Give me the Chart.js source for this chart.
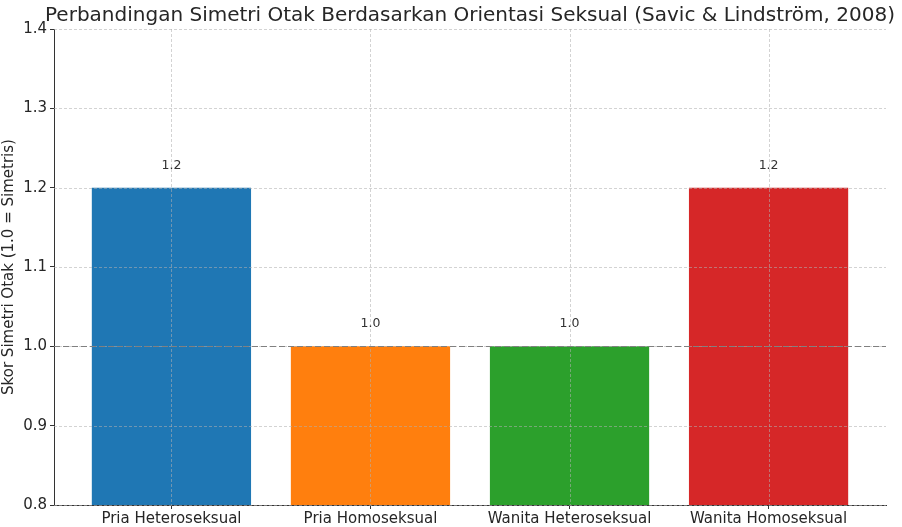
<!DOCTYPE html>
<html>
<head>
<meta charset="utf-8">
<script src="https://cdn.jsdelivr.net/npm/chart.js@4.4.1/dist/chart.umd.min.js"></script>
<style>
html,body{margin:0;padding:0;background:#fff;}
#wrap{width:902px;height:527px;position:relative;}
</style>
</head>
<body>
<div id="wrap"><canvas id="c" width="902" height="527"></canvas></div>
<script>
const categories = ["Pria Heteroseksual", "Pria Homoseksual", "Wanita Heteroseksual", "Wanita Homoseksual"];
const symmetryScores = [1.2, 1.0, 1.0, 1.2];
const barColors = ["#1f77b4", "#ff7f0e", "#2ca02c", "#d62728"];
const yTicks = [0.8, 0.9, 1.0, 1.1, 1.2, 1.3, 1.4];
const referenceValue = 1.0;
const chartTitle = "Perbandingan Simetri Otak Berdasarkan Orientasi Seksual (Savic & Lindström, 2008)";
const yAxisLabel = "Skor Simetri Otak (1.0 = Simetris)";

const FONT = "'DejaVu Sans', sans-serif";

const overlayPlugin = {
  id: 'overlay',
  afterDatasetsDraw(chart) {
    const ctx = chart.ctx;
    const area = chart.chartArea;
    const xs = chart.scales.x, ys = chart.scales.y;
    ctx.save();
    // grid over bars
    ctx.strokeStyle = 'rgba(176,176,176,0.7)';
    ctx.lineWidth = 0.8;
    ctx.setLineDash([3, 2]);
    yTicks.forEach(v => {
      const y = Math.round(ys.getPixelForValue(v)) + 0.5;
      ctx.beginPath(); ctx.moveTo(area.left, y); ctx.lineTo(area.right, y); ctx.stroke();
    });
    categories.forEach((c, i) => {
      const x = Math.round(xs.getPixelForValue(i)) + 0.5;
      ctx.beginPath(); ctx.moveTo(x, area.top); ctx.lineTo(x, area.bottom); ctx.stroke();
    });
    // reference line
    ctx.strokeStyle = '#808080';
    ctx.lineWidth = 1.2;
    ctx.setLineDash([6, 3]);
    const ry = Math.round(ys.getPixelForValue(referenceValue)) + 0.5;
    ctx.beginPath(); ctx.moveTo(area.left, ry); ctx.lineTo(area.right, ry); ctx.stroke();
    ctx.setLineDash([]);
    // value labels
    ctx.fillStyle = '#333';
    ctx.font = "12.5px " + FONT;
    ctx.textAlign = 'center';
    ctx.textBaseline = 'bottom';
    symmetryScores.forEach((v, i) => {
      ctx.fillText(v.toFixed(1), xs.getPixelForValue(i), ys.getPixelForValue(v + 0.02));
    });
    // title centred over the plot area
    ctx.fillStyle = '#262626';
    ctx.font = "20px " + FONT;
    ctx.textBaseline = 'alphabetic';
    ctx.fillText(chartTitle, (area.left + area.right) / 2, 21);
    ctx.restore();
  }
};

new Chart(document.getElementById('c'), {
  type: 'bar',
  data: {
    datasets: [{
      data: symmetryScores.map((v, i) => ({ x: i, y: v })),
      backgroundColor: barColors,
      borderWidth: 0,
      barPercentage: 0.8,
      categoryPercentage: 1.0
    }]
  },
  options: {
    responsive: false,
    animation: false,
    devicePixelRatio: 1,
    layout: { padding: { left: 0, right: 16, top: 29, bottom: 0 } },
    plugins: {
      legend: { display: false },
      tooltip: { enabled: false },
      title: { display: false }
    },
    scales: {
      x: {
        type: 'linear',
        offset: false,
        min: -0.59,
        max: 3.59,
        afterBuildTicks: s => { s.ticks = categories.map((c, i) => ({ value: i })); },
        afterFit: s => { s.height = 22; },
        ticks: {
          callback: v => categories[v],
          color: '#262626',
          font: { family: FONT, size: 15 },
          padding: 1,
          maxRotation: 0,
          autoSkip: false
        },
        grid: { offset: false, drawOnChartArea: false, drawTicks: true, tickLength: 4, tickColor: '#333', lineWidth: 1 },
        border: { display: true, color: '#333', width: 1 }
      },
      y: {
        min: 0.8,
        max: 1.4,
        afterBuildTicks: s => { s.ticks = yTicks.map(v => ({ value: v })); },
        afterFit: s => { s.width = 54; },
        ticks: {
          callback: v => v.toFixed(1),
          color: '#262626',
          font: { family: FONT, size: 15 },
          padding: 3
        },
        title: {
          display: true,
          text: yAxisLabel,
          color: '#262626',
          font: { family: FONT, size: 15 },
          padding: { top: 0, bottom: 2 }
        },
        grid: { drawOnChartArea: false, drawTicks: true, tickLength: 4, tickColor: '#333', lineWidth: 1 },
        border: { display: true, color: '#333', width: 1 }
      }
    }
  },
  plugins: [overlayPlugin]
});
</script>
</body>
</html>
